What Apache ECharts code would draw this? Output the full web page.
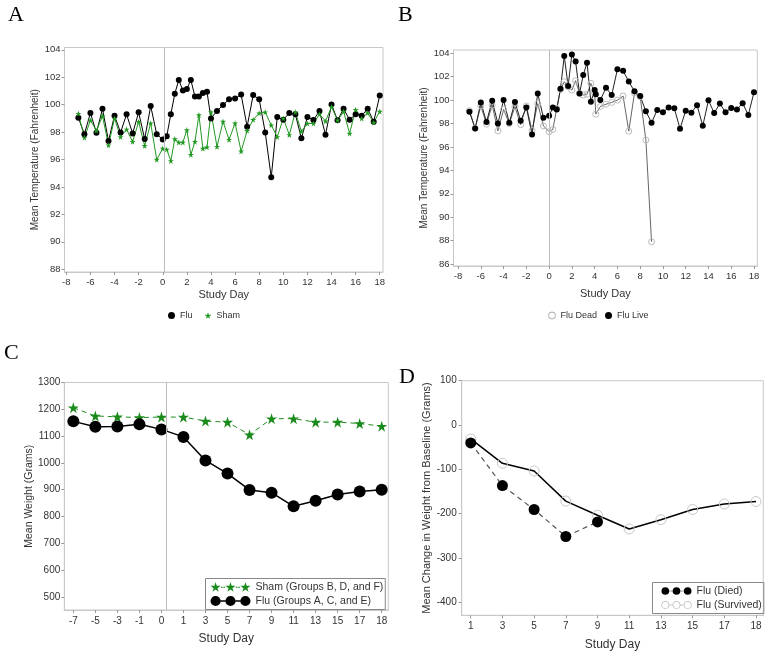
<!DOCTYPE html>
<html><head><meta charset="utf-8">
<script src="https://cdn.jsdelivr.net/npm/echarts@6/dist/echarts.min.js"></script>
<style>html,body{margin:0;padding:0;background:#fff}#c{width:769px;height:657px}</style>
</head><body><div id="c"></div>
<script>
// ---------- Panel A : temperature, Flu vs Sham ----------
const daysA = [-7,-6.5,-6,-5.5,-5,-4.5,-4,-3.5,-3,-2.5,-2,-1.5,-1,-0.5,
  0,0.33,0.67,1,1.33,1.67,2,2.33,2.67,3,3.33,3.67,4,
  4.5,5,5.5,6,6.5,7,7.5,8,8.5,9,9.5,10,10.5,11,11.5,12,12.5,13,13.5,14,14.5,15,15.5,16,16.5,17,17.5,18];
const fluTempA = [99.05,97.85,99.4,97.95,99.7,97.36,99.2,97.97,99.3,97.9,99.44,97.5,99.9,97.85,
  97.46,97.7,99.3,100.8,101.8,101.03,101.15,101.8,100.6,100.6,100.86,100.94,99.0,
  99.54,99.97,100.4,100.45,100.74,98.4,100.7,100.4,97.97,94.7,99.1,98.9,99.4,99.3,97.55,99.1,98.88,99.54,97.8,100.02,98.86,99.7,98.9,99.3,99.2,99.7,98.76,100.67];
const shamTempA = [99.35,97.6,98.86,98.1,99.17,97.05,99.0,97.65,98.2,97.3,98.75,97.0,98.65,96.0,
  96.8,96.73,95.9,97.5,97.25,97.25,98.15,96.35,97.3,99.25,96.8,96.9,99.46,
  96.94,98.77,97.45,98.65,96.6,98.1,98.9,99.38,99.46,98.5,97.65,99.0,97.8,99.46,98.05,98.63,98.63,99.3,98.8,99.84,98.86,99.5,97.9,99.63,99.0,99.4,98.7,99.5];

// ---------- Panel B : temperature, Flu Dead vs Flu Live ----------
const daysB = [-7,-6.5,-6,-5.5,-5,-4.5,-4,-3.5,-3,-2.5,-2,-1.5,-1,-0.5,
  0,0.33,0.67,1,1.33,1.67,2,2.33,2.67,3,3.33,3.67,4,4.1,
  4.5,5,5.5,6,6.5,7,7.5,8,8.5,9,9.5,10,10.5,11,11.5,12,12.5,13,13.5,14,14.5,15,15.5,16,16.5,17,17.5,18];
const fluLiveB = [99.0,97.57,99.8,98.14,99.94,98.0,100.0,98.06,99.83,98.23,99.37,97.06,100.57,98.5,
  98.66,99.37,99.2,100.97,103.77,101.2,103.9,103.3,100.57,102.14,103.2,99.86,100.86,100.49,
  100.0,101.06,100.43,102.63,102.5,101.58,100.75,100.35,99.04,98.07,99.16,98.96,99.36,99.3,97.56,99.1,98.93,99.56,97.8,99.98,98.9,99.7,98.96,99.33,99.2,99.73,98.73,100.67];
const fluDeadB = [99.1,97.6,99.5,97.95,99.57,97.37,99.2,98.0,99.43,97.9,99.5,97.4,99.7,97.8,
  97.3,97.5,99.3,100.9,101.57,101.14,100.86,101.66,100.57,100.43,100.5,101.43,100.6,98.8,
  99.45,99.65,99.8,100.0,100.35,97.35,100.6,100.3,96.6,87.9,
  null,null,null,null,null,null,null,null,null,null,null,null,null,null,null,null,null,null];

// ---------- Panel C : mean weight ----------
const weightDays = ['-7','-5','-3','-1','0','1','3','5','7','9','11','13','15','17','18'];
const shamWeight = [1206,1175,1172,1169,1171,1171,1156,1152,1105,1165,1165,1152,1152,1147,1137];
const fluWeight  = [1155,1135,1136,1144,1125,1097,1009,960,899,889,838,859,882,893,900];

// ---------- Panel D : change from baseline ----------
const changeDays = ['1','3','5','7','9','11','13','15','17','18'];
const diedChange     = [-40.7,-137,-191,-252,-219,null,null,null,null,null];
const survivedChange = [-31.6,-86.6,-104,-172,-204,-235,-214,-191,-178.5,-173];

// ---------- tick labels ----------
const dayTicks   = [-8,-6,-4,-2,0,2,4,6,8,10,12,14,16,18];
const tempTicksA = [88,90,92,94,96,98,100,102,104];
const tempTicksB = [86,88,90,92,94,96,98,100,102,104];
const weightTicks = [500,600,700,800,900,1000,1100,1200,1300];
const changeTicks = [-400,-300,-200,-100,0,100];

const STAR = 'path://M50,3L61.2,37.6L97.5,37.6L68.1,58.9L79.4,93.5L50,72.1L20.6,93.5L31.9,58.9L2.5,37.6L38.8,37.6Z';
function starAt(cx){
  const p=[[50,3],[61.2,37.6],[97.5,37.6],[68.1,58.9],[79.4,93.5],[50,72.1],[20.6,93.5],[31.9,58.9],[2.5,37.6],[38.8,37.6]];
  return 'M'+p.map(q=>(q[0]-50+cx).toFixed(1)+','+q[1]).join('L')+'Z';
}
function circleAt(cx,r){return `M${cx-r},50a${r},${r} 0 1,0 ${2*r},0a${r},${r} 0 1,0 ${-2*r},0Z`;}
function ringAt(cx,r,w){return circleAt(cx,r)+`M${cx-r+w},50a${r-w},${r-w} 0 1,1 ${2*(r-w)},0a${r-w},${r-w} 0 1,1 ${-2*(r-w)},0Z`;}
const ICON_STARS = 'path://'+starAt(50)+starAt(190)+starAt(330)+'M100,46h17v9h-17zM123,46h17v9h-17zM240,46h17v9h-17zM263,46h17v9h-17z';
const ICON_CIRCLES = 'path://'+circleAt(50,48)+circleAt(190,48)+circleAt(330,48)+'M98,44h44v12h-44zM238,44h44v12h-44z';
const ICON_CIRCLES_DASH = 'path://'+circleAt(50,48)+circleAt(190,48)+circleAt(330,48)+'M100,46h17v8h-17zM123,46h17v8h-17zM240,46h17v8h-17zM263,46h17v8h-17z';
const ICON_RINGS = 'path://'+ringAt(50,48,6)+ringAt(190,48,6)+ringAt(330,48,6)+'M98,46h44v8h-44zM238,46h44v8h-44z';

const lab = (fs)=>({color:'#333',fontSize:fs,fontFamily:'Liberation Sans, Arial, sans-serif'});
const frameLine = {show:true,onZero:false,lineStyle:{color:'#c8c8c8',width:1}};
const tick = (vals)=>({show:true,length:3,lineStyle:{color:'#999'},customValues:vals});
const plain = v=>String(v);
const vline = (x)=>({silent:true,symbol:'none',label:{show:false},animation:false,
  lineStyle:{color:'#bbb',type:'solid',width:1},data:[{xAxis:x}]});

const chart = echarts.init(document.getElementById('c'),null,{renderer:'canvas'});
chart.setOption({
  animation:false,
  backgroundColor:'#fff',
  graphic:[
    {type:'text',left:8,top:4,style:{text:'A',font:'22px "Liberation Serif", serif',fill:'#000'}},
    {type:'text',left:398,top:4,style:{text:'B',font:'22px "Liberation Serif", serif',fill:'#000'}},
    {type:'text',left:4,top:342,style:{text:'C',font:'22px "Liberation Serif", serif',fill:'#000'}},
    {type:'text',left:399,top:366,style:{text:'D',font:'22px "Liberation Serif", serif',fill:'#000'}}
  ],
  grid:[
    {left:64.5,top:47.5,width:318.5,height:224.5,show:true,borderColor:'#c8c8c8',borderWidth:1},
    {left:453.5,top:50,width:303.8,height:216,show:true,borderColor:'#c8c8c8',borderWidth:1},
    {left:64.3,top:382.5,width:324,height:227.5,show:true,borderColor:'#c8c8c8',borderWidth:1},
    {left:461.7,top:380.7,width:301.6,height:234.6,show:true,borderColor:'#c8c8c8',borderWidth:1}
  ],
  xAxis:[
    {gridIndex:0,type:'value',min:-8.15,max:18.27,axisLine:frameLine,splitLine:{show:false},
     axisTick:tick(dayTicks),axisLabel:Object.assign(lab(9.5),{customValues:dayTicks,margin:5,formatter:plain}),
     name:'Study Day',nameLocation:'middle',nameGap:17,nameTextStyle:lab(11)},
    {gridIndex:1,type:'value',min:-8.4,max:18.29,axisLine:frameLine,splitLine:{show:false},
     axisTick:tick(dayTicks),axisLabel:Object.assign(lab(9.5),{customValues:dayTicks,margin:5,formatter:plain}),
     name:'Study Day',nameLocation:'middle',nameGap:22,nameTextStyle:lab(11)},
    {gridIndex:2,type:'value',min:-0.41,max:14.3,axisLine:frameLine,splitLine:{show:false},
     axisTick:tick(weightDays.map((_,i)=>i)),
     axisLabel:Object.assign(lab(10),{customValues:weightDays.map((_,i)=>i),margin:6,formatter:v=>weightDays[Math.round(v)]}),
     name:'Study Day',nameLocation:'middle',nameGap:23,nameTextStyle:lab(12)},
    {gridIndex:3,type:'value',min:-0.285,max:9.23,axisLine:frameLine,splitLine:{show:false},
     axisTick:tick(changeDays.map((_,i)=>i)),
     axisLabel:Object.assign(lab(10),{customValues:changeDays.map((_,i)=>i),margin:6,formatter:v=>changeDays[Math.round(v)]}),
     name:'Study Day',nameLocation:'middle',nameGap:23,nameTextStyle:lab(12)}
  ],
  yAxis:[
    {gridIndex:0,type:'value',min:87.8,max:104.17,axisLine:frameLine,splitLine:{show:false},
     axisTick:tick(tempTicksA),axisLabel:Object.assign(lab(9.5),{customValues:tempTicksA,margin:4,formatter:plain}),
     name:'Mean Temperature (Fahrenheit)',nameLocation:'middle',nameGap:24,nameTextStyle:lab(10)},
    {gridIndex:1,type:'value',min:85.83,max:104.28,axisLine:frameLine,splitLine:{show:false},
     axisTick:tick(tempTicksB),axisLabel:Object.assign(lab(9.5),{customValues:tempTicksB,margin:4,formatter:plain}),
     name:'Mean Temperature (Fahrenheit)',nameLocation:'middle',nameGap:22,nameTextStyle:lab(10)},
    {gridIndex:2,type:'value',min:451,max:1300,axisLine:frameLine,splitLine:{show:false},
     axisTick:tick(weightTicks),axisLabel:Object.assign(lab(10),{customValues:weightTicks,margin:4,formatter:plain}),
     name:'Mean Weight (Grams)',nameLocation:'middle',nameGap:28,nameTextStyle:lab(10.5)},
    {gridIndex:3,type:'value',min:-430,max:100,axisLine:frameLine,splitLine:{show:false},
     axisTick:tick(changeTicks),axisLabel:Object.assign(lab(10),{customValues:changeTicks,margin:5,formatter:plain}),
     name:'Mean Change in Weight from Baseline (Grams)',nameLocation:'middle',nameGap:24,nameTextStyle:lab(11)}
  ],
  legend:[
    {left:163,top:306,itemWidth:7,itemHeight:7,itemGap:12,selectedMode:false,textStyle:lab(9),
     data:[{name:'Flu',icon:'circle'},{name:'Sham',icon:STAR}]},
    {left:543,top:306,itemWidth:7,itemHeight:7,itemGap:8,selectedMode:false,textStyle:lab(9),
     data:[{name:'Flu Dead',icon:'circle',itemStyle:{color:'#fff',borderColor:'#aaa',borderWidth:1}},
           {name:'Flu Live',icon:'circle'}]},
    {left:205.5,top:578.5,orient:'vertical',itemWidth:40,itemHeight:10.5,itemGap:3,padding:[3,2,3,5],
     borderColor:'#888',borderWidth:1,selectedMode:false,textStyle:lab(10.5),
     data:[{name:'Sham (Groups B, D, and F)',icon:ICON_STARS},{name:'Flu (Groups A, C, and E)',icon:ICON_CIRCLES}]},
    {left:652.5,top:582.5,orient:'vertical',itemWidth:30,itemHeight:9.5,itemGap:3,padding:[3,2,3,9],
     borderColor:'#888',borderWidth:1,selectedMode:false,textStyle:lab(10.5),
     data:[{name:'Flu (Died)',icon:ICON_CIRCLES_DASH,itemStyle:{color:'#000',borderWidth:0}},
           {name:'Flu (Survived)',icon:ICON_RINGS,itemStyle:{color:'#999',borderWidth:0}}]}
  ],
  series:[
    {name:'Flu',type:'line',xAxisIndex:0,yAxisIndex:0,data:daysA.map((d,i)=>[d,fluTempA[i]]),
     symbol:'circle',symbolSize:6,lineStyle:{color:'#000',width:1},itemStyle:{color:'#000'},markLine:vline(0.1)},
    {name:'Sham',type:'line',xAxisIndex:0,yAxisIndex:0,data:daysA.map((d,i)=>[d,shamTempA[i]]),
     symbol:STAR,symbolSize:6,lineStyle:{color:'#229922',width:1},itemStyle:{color:'#229922'}},
    {name:'Flu Dead',type:'line',xAxisIndex:1,yAxisIndex:1,data:daysB.map((d,i)=>[d,fluDeadB[i]]),
     symbol:'circle',symbolSize:6,lineStyle:{color:'#666',width:1},
     itemStyle:{color:'rgba(255,255,255,0)',borderColor:'#bbb',borderWidth:1},markLine:vline(0.05)},
    {name:'Flu Live',type:'line',xAxisIndex:1,yAxisIndex:1,data:daysB.map((d,i)=>[d,fluLiveB[i]]),
     symbol:'circle',symbolSize:6,lineStyle:{color:'#222',width:1},itemStyle:{color:'#000'}},
    {name:'Sham (Groups B, D, and F)',type:'line',xAxisIndex:2,yAxisIndex:2,data:shamWeight.map((v,i)=>[i,v]),
     symbol:STAR,symbolSize:11,lineStyle:{color:'#1e8c1e',width:1,type:[5,4]},itemStyle:{color:'#1a8a1a'},markLine:vline(4.2)},
    {name:'Flu (Groups A, C, and E)',type:'line',xAxisIndex:2,yAxisIndex:2,data:fluWeight.map((v,i)=>[i,v]),
     symbol:'circle',symbolSize:12,lineStyle:{color:'#000',width:1.5},itemStyle:{color:'#000'}},
    {name:'Flu (Survived)',type:'line',xAxisIndex:3,yAxisIndex:3,data:survivedChange.map((v,i)=>[i,v]),
     symbol:'circle',symbolSize:10,lineStyle:{color:'#000',width:1.5},
     itemStyle:{color:'rgba(255,255,255,0)',borderColor:'#c8c8c8',borderWidth:1}},
    {name:'Flu (Died)',type:'line',xAxisIndex:3,yAxisIndex:3,data:diedChange.map((v,i)=>[i,v]),
     symbol:'circle',symbolSize:11,lineStyle:{color:'#555',width:1.2,type:[5,4]},itemStyle:{color:'#000'}}
  ]
});
</script></body></html>
